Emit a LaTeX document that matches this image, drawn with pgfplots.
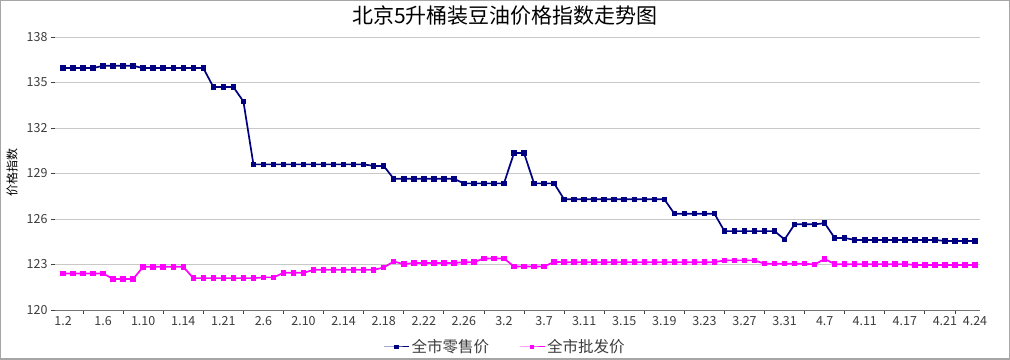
\documentclass[border=0pt]{standalone}
\usepackage{fontspec}
\setmainfont{Noto Sans CJK SC}
\usepackage{pgfplots}
\usepackage{pgfplotstable}
\pgfplotsset{compat=1.18}
\definecolor{navyc}{RGB}{0,0,128}
\definecolor{magc}{RGB}{255,0,255}
\definecolor{gridc}{RGB}{200,200,200}
\definecolor{txtc}{RGB}{60,60,60}
\pgfplotstableread{
i r w
0 135.95 122.4
1 135.95 122.4
2 135.95 122.4
3 135.95 122.4
4 136.1 122.4
5 136.1 122.05
6 136.1 122.05
7 136.1 122.05
8 135.95 122.85
9 135.95 122.85
10 135.95 122.85
11 135.95 122.85
12 135.95 122.85
13 135.95 122.1
14 135.95 122.1
15 134.7 122.1
16 134.7 122.1
17 134.7 122.1
18 133.75 122.1
19 129.6 122.1
20 129.6 122.15
21 129.6 122.15
22 129.6 122.45
23 129.6 122.45
24 129.6 122.45
25 129.6 122.65
26 129.6 122.65
27 129.6 122.65
28 129.6 122.65
29 129.6 122.65
30 129.6 122.65
31 129.5 122.65
32 129.5 122.8
33 128.65 123.2
34 128.65 123.02
35 128.65 123.1
36 128.65 123.1
37 128.65 123.1
38 128.65 123.1
39 128.65 123.1
40 128.35 123.15
41 128.35 123.15
42 128.35 123.4
43 128.35 123.4
44 128.35 123.4
45 130.35 122.87
46 130.35 122.87
47 128.35 122.87
48 128.35 122.87
49 128.35 123.17
50 127.3 123.15
51 127.3 123.15
52 127.3 123.15
53 127.3 123.15
54 127.3 123.15
55 127.3 123.15
56 127.3 123.15
57 127.3 123.15
58 127.3 123.15
59 127.3 123.15
60 127.3 123.15
61 126.35 123.15
62 126.35 123.15
63 126.35 123.15
64 126.35 123.15
65 126.35 123.15
66 125.2 123.27
67 125.2 123.27
68 125.2 123.27
69 125.2 123.27
70 125.2 123.05
71 125.2 123.05
72 124.65 123.05
73 125.65 123.05
74 125.65 123.05
75 125.65 123.0
76 125.72 123.37
77 124.75 123.02
78 124.75 123.02
79 124.62 123.02
80 124.62 123.02
81 124.62 123.02
82 124.62 123.02
83 124.62 123.02
84 124.62 123.02
85 124.62 122.97
86 124.62 122.97
87 124.62 122.97
88 124.55 122.97
89 124.55 122.97
90 124.55 122.97
91 124.55 122.97
}\datatable
\begin{document}
\begin{tikzpicture}[x=1pt,y=1pt]
\begin{axis}[
  scale only axis, width=925pt, height=273pt,
  clip=false,
  xmin=-0.8, xmax=91.5, ymin=120, ymax=138,
  ytick={120,123,126,129,132,135,138},
  ymajorgrids, grid style={gridc, line width=0.8pt},
  axis x line*=bottom, axis y line*=left,
  y axis line style={draw=none},
  x axis line style={black!55, line width=0.9pt},
  tick align=outside, major tick length=4pt,
  every tick/.style={black!75, line width=0.8pt},
  /pgf/number format/assume math mode=true,
  ticklabel style={font=\fontsize{12.5}{14}\selectfont, text=txtc},
  xtick={2,6,10,14,18,22,26,30,34,38,42,46,50,54,58,62,66,70,74,78,82,86,89},
  xticklabels={},
  extra x ticks={0,4,8,12,16,20,24,28,32,36,40,44,48,52,56,60,64,68,72,76,80,84,88,91},
  extra x tick labels={1.2,1.6,1.10,1.14,1.21,2.6,2.10,2.14,2.18,2.22,2.26,3.2,3.7,3.11,3.15,3.19,3.23,3.27,3.31,4.7,4.11,4.17,4.21,4.24},
  extra x tick style={major tick length=0pt, xticklabel style={yshift=-3pt}},
  legend style={at={(rel axis cs:0.4865,-0.1355)}, anchor=center, draw=none, fill=none,
    legend columns=2, font=\fontsize{15.5}{18}\selectfont, text=txtc,
    /tikz/every even column/.append style={column sep=28pt}},
  legend image code/.code={\draw[mark repeat=2,mark phase=2,#1,line width=1pt,mark size=1.8pt] plot coordinates {(0pt,0pt) (12.5pt,0pt) (25pt,0pt)};},
]
\addplot[navyc, line width=1.7pt, mark=square*, mark size=1.9pt, mark options={solid}] table[x=i,y=r] {\datatable};
\addlegendentry{全市零售价}
\addplot[magc, line width=1.7pt, mark=square*, mark size=1.9pt, mark options={solid}] table[x=i,y=w] {\datatable};
\addlegendentry{全市批发价}
\node[font=\fontsize{21}{24}\selectfont, text=black] at (rel axis cs:0.4865,1.077) {北京5升桶装豆油价格指数走势图};
\node[font=\fontsize{12}{14}\selectfont, rotate=90, text=black] at (rel axis cs:-0.0465,0.502) {价格指数};
\draw[black!35, line width=1.5pt] (rel axis cs:-0.05865,-0.1804) rectangle (rel axis cs:1.03162,1.13278);
\end{axis}
\end{tikzpicture}
\end{document}
